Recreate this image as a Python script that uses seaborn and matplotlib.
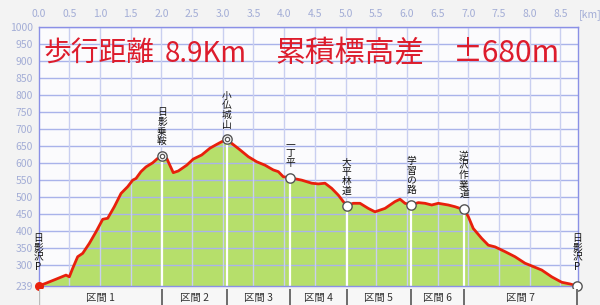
import matplotlib
matplotlib.use("Agg")
import matplotlib.pyplot as plt
import seaborn as sns
import numpy as np
import pandas as pd

# ---- data ----
dist_km = [0.0, 0.12, 0.285, 0.448, 0.502, 0.557, 0.638, 0.72, 0.827, 0.936,
           1.046, 1.127, 1.235, 1.344, 1.453, 1.534, 1.588, 1.669, 1.751, 1.86,
           1.941, 2.011, 2.088, 2.195, 2.277, 2.414, 2.521, 2.658, 2.793, 2.902,
           2.984, 3.065, 3.147, 3.282, 3.417, 3.554, 3.689, 3.824, 3.906, 3.987,
           4.096, 4.287, 4.45, 4.557, 4.666, 4.775, 4.883, 4.964, 5.02, 5.127,
           5.236, 5.371, 5.48, 5.643, 5.806, 5.888, 5.969, 6.067, 6.186, 6.295,
           6.404, 6.511, 6.674, 6.783, 6.865, 6.93, 7.0, 7.081, 7.218, 7.326,
           7.435, 7.598, 7.761, 7.923, 8.059, 8.195, 8.358, 8.521, 8.656, 8.775]
elev_m = [239, 247, 259, 271, 266, 291, 325, 335, 364, 398,
          435, 438, 472, 511, 531, 550, 555, 575, 589, 601,
          614, 621, 614, 572, 577, 594, 612, 624, 644, 655,
          663, 670, 658, 639, 619, 604, 594, 580, 575, 560,
          557, 550, 541, 539, 541, 526, 506, 487, 475, 482,
          482, 467, 457, 467, 487, 494, 482, 477, 484, 482,
          477, 482, 477, 472, 467, 465, 443, 408, 379, 359,
          354, 340, 325, 306, 296, 286, 266, 250, 245, 239]

wp_names = ["日影沢P", "日影乗鞍", "小仏城山", "一丁平", "大平林道", "学習の路", "逆沢作業道", "日影沢P"]
wp_km = [0.0, 2.011, 3.065, 4.096, 5.02, 6.067, 6.93, 8.775]
wp_elev = [239, 621, 670, 557, 475, 477, 465, 239]
wp_summit = [False, True, True, False, False, False, False, False]

section_labels = ["区間 1", "区間 2", "区間 3", "区間 4", "区間 5", "区間 6", "区間 7"]

x_ticks = [0.0, 0.5, 1.0, 1.5, 2.0, 2.5, 3.0, 3.5, 4.0, 4.5, 5.0, 5.5, 6.0, 6.5, 7.0, 7.5, 8.0, 8.5]
y_ticks = [239, 300, 350, 400, 450, 500, 550, 600, 650, 700, 750, 800, 850, 900, 950, 1000]

title_parts = ["歩行距離", "8.9Km", "累積標高差", "±680m"]

# ---- style ----
sns.set_style("white")
plt.rcParams['font.family'] = ['Noto Sans CJK JP', 'DejaVu Sans']

W, H = 600, 305
fig = plt.figure(figsize=(6.0, 3.05), dpi=100, facecolor="#f3f3f3")

x0, x1, ytop, ybot = 38.5, 578, 27, 286
ax = fig.add_axes([x0 / W, (H - ybot) / H, (x1 - x0) / W, (ybot - ytop) / H])
ax.set_facecolor("#fbfbfd")

df = pd.DataFrame({"km": dist_km, "elev": elev_m})
ax.fill_between(df["km"], df["elev"], 239, color="#b6df6b", lw=0, zorder=2)
sns.lineplot(data=df, x="km", y="elev", ax=ax, color="#e8200c", lw=2.0, zorder=4)

ax.set_xlim(0, (x1 - x0) / 61.4)
ax.set_ylim(239, 1000)

# grid
for yt in y_ticks[1:]:
    ax.axhline(yt, color="#a9b3ea", lw=1.0, zorder=3)
for xt in x_ticks[1:]:
    ax.axvline(xt, color="#c9cff0", lw=1.0, zorder=3)

# waypoint vertical lines
for k, e in zip(wp_km[1:-1], wp_elev[1:-1]):
    ax.plot([k, k], [239, e], color="white", lw=1.6, zorder=5)

# markers
wdf = pd.DataFrame({"km": wp_km, "elev": wp_elev})
sns.scatterplot(data=wdf.iloc[1:], x="km", y="elev", ax=ax, s=45, color="white",
                edgecolor="#555555", linewidth=1.0, zorder=7, clip_on=False)
summ = wdf[np.array(wp_summit)]
sns.scatterplot(data=summ, x="km", y="elev", ax=ax, s=10, color="white",
                edgecolor="#555555", linewidth=0.9, zorder=8, clip_on=False)
ax.scatter([wp_km[0]], [wp_elev[0]], s=30, color="#e8200c", zorder=8, clip_on=False)

for name, k, e in zip(wp_names, wp_km, wp_elev):
    vt = "\n".join(name)
    off = 10 if k in (wp_km[0], wp_km[-1]) else 7
    ax.annotate(vt, (k, e), xytext=(0, off), textcoords="offset points",
                ha="center", va="bottom", fontsize=7, linespacing=0.95,
                color="#111111", zorder=9, annotation_clip=False)

ax.set_xlabel("")
ax.set_ylabel("")
ax.xaxis.tick_top()
ax.set_xticks(x_ticks)
ax.set_xticklabels([f"{t:.1f}" for t in x_ticks])
ax.set_yticks(y_ticks)
ax.set_yticklabels([str(t) for t in y_ticks])
ax.tick_params(axis="both", length=0, labelsize=7.5, labelcolor="#a3add6")
ax.tick_params(axis="x", pad=6)
ax.tick_params(axis="y", pad=4)
for s in ax.spines.values():
    s.set_color("#8a90e6")
    s.set_linewidth(1.0)
    s.set_zorder(6)
ax.grid(False)

fig.text(590 / W, 1 - 15 / H, "[km]", fontsize=7.5, color="#a3add6",
         ha="center", va="center")

# section band
band = fig.add_axes([x0 / W, 0, (x1 - x0) / W, (H - 289) / H])
band.set_facecolor("#f7f7f7")
band.set_xlim(ax.get_xlim())
band.set_ylim(0, 1)
band.set_xticks([])
band.set_yticks([])
for s in band.spines.values():
    s.set_visible(False)
for i, lab in enumerate(section_labels):
    a, b = wp_km[i], wp_km[i + 1]
    band.text((a + b) / 2, 0.45, lab, ha="center", va="center", fontsize=7.5, color="#333333")
    band.axvline(b, color="#555555", lw=1.2)
band.axvline(wp_km[0], color="#bbbbbb", lw=1.0)

# title pieces
title_x = [43, 165, 275, 453]
title_fs = [20, 20, 21.5, 21.5]
for t, px, fs in zip(title_parts, title_x, title_fs):
    fig.text(px / W, 1 - 54 / H, t, fontsize=fs, color="#dd1c2c",
             ha="left", va="center")

fig.savefig("out.png", dpi=100, facecolor=fig.get_facecolor())
